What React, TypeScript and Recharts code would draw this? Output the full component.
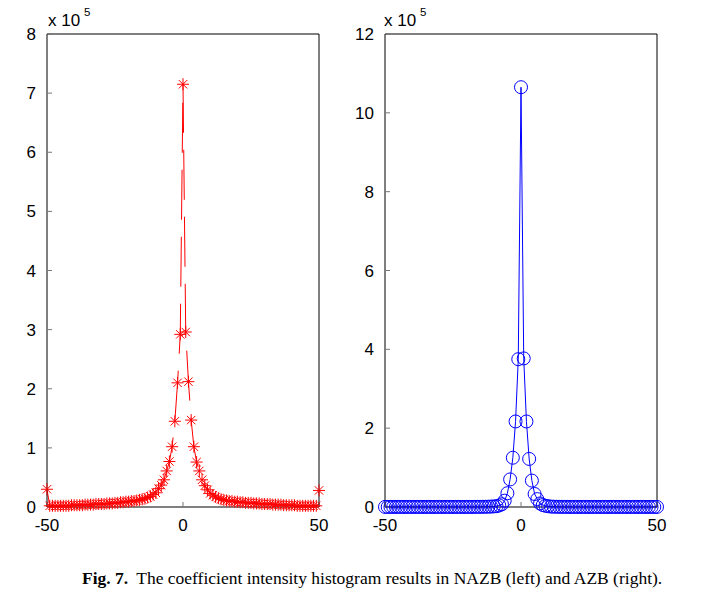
import React from "react";
import { LineChart, Line, XAxis, YAxis } from "recharts";

// histogram bins (coefficient value)
const bins = [
  -50, -49, -48, -47, -46, -45, -44, -43, -42, -41, -40, -39, -38, -37, -36, -35, -34,
  -33, -32, -31, -30, -29, -28, -27, -26, -25, -24, -23, -22, -21, -20, -19, -18, -17,
  -16, -15, -14, -13, -12, -11, -10, -9, -8, -7, -6, -5, -4, -3, -2, -1, 0, 1, 2, 3, 4,
  5, 6, 7, 8, 9, 10, 11, 12, 13, 14, 15, 16, 17, 18, 19, 20, 21, 22, 23, 24, 25, 26, 27,
  28, 29, 30, 31, 32, 33, 34, 35, 36, 37, 38, 39, 40, 41, 42, 43, 44, 45, 46, 47, 48,
  49, 50,
];

// counts, in units of 1e5
const nazb = [
  0.3, 0.02, 0.02, 0.02, 0.02, 0.02, 0.02, 0.02, 0.02, 0.03, 0.03, 0.03, 0.03, 0.03, 0.04,
  0.04, 0.04, 0.04, 0.05, 0.05, 0.05, 0.05, 0.06, 0.06, 0.06, 0.07, 0.07, 0.08, 0.08, 0.09,
  0.09, 0.1, 0.1, 0.11, 0.12, 0.13, 0.14, 0.16, 0.18, 0.21, 0.24, 0.31, 0.37, 0.46, 0.61,
  0.77, 1.02, 1.45, 2.1, 2.92, 7.15, 2.96, 2.12, 1.47, 1.02, 0.76, 0.61, 0.46, 0.36, 0.29,
  0.23, 0.2, 0.17, 0.15, 0.13, 0.12, 0.11, 0.1, 0.1, 0.09, 0.09, 0.08, 0.08, 0.07, 0.07,
  0.07, 0.06, 0.06, 0.06, 0.05, 0.05, 0.05, 0.05, 0.04, 0.04, 0.04, 0.04, 0.03, 0.03, 0.03,
  0.03, 0.03, 0.02, 0.02, 0.02, 0.02, 0.02, 0.02, 0.02, 0.02, 0.28,
];

const azb = [
  0.002, 0.002, 0.002, 0.002, 0.002, 0.002, 0.002, 0.002, 0.002, 0.002, 0.002, 0.002, 0.002,
  0.002, 0.002, 0.002, 0.002, 0.002, 0.002, 0.002, 0.002, 0.002, 0.002, 0.002, 0.002, 0.002,
  0.002, 0.002, 0.002, 0.002, 0.002, 0.002, 0.002, 0.003, 0.003, 0.004, 0.005, 0.006, 0.008,
  0.01, 0.015, 0.02, 0.04, 0.07, 0.16, 0.35, 0.7, 1.25, 2.17, 3.75, 10.65, 3.77, 2.17, 1.22,
  0.67, 0.33, 0.2, 0.09, 0.05, 0.03, 0.02, 0.01, 0.008, 0.006, 0.005, 0.004, 0.003, 0.003,
  0.002, 0.002, 0.002, 0.002, 0.002, 0.002, 0.002, 0.002, 0.002, 0.002, 0.002, 0.002, 0.002,
  0.002, 0.002, 0.002, 0.002, 0.002, 0.002, 0.002, 0.002, 0.002, 0.002, 0.002, 0.002, 0.002,
  0.002, 0.002, 0.002, 0.002, 0.002, 0.002, 0.002,
];

const xTicks = [-50, 0, 50];
const leftTicks = [0, 1, 2, 3, 4, 5, 6, 7, 8];
const rightTicks = [0, 2, 4, 6, 8, 10, 12];

const data = bins.map((x, i) => ({ x, nazb: nazb[i], azb: azb[i] }));

const FONT = "'Liberation Sans', Arial, sans-serif";
const tickStyle = { fill: "#000", fontSize: 17, fontFamily: FONT };
const tickLineStyle = { stroke: "#777" };

const Star = (props: any) => {
  const { cx, cy, index } = props;
  if (cx == null || cy == null) return <g key={index} />;
  const a = 6;
  const d = 4.2;
  return (
    <g key={index} stroke="#ff0000" strokeWidth={1}>
      <line x1={cx - a} y1={cy} x2={cx + a} y2={cy} />
      <line x1={cx} y1={cy - a} x2={cx} y2={cy + a} />
      <line x1={cx - d} y1={cy - d} x2={cx + d} y2={cy + d} />
      <line x1={cx - d} y1={cy + d} x2={cx + d} y2={cy - d} />
    </g>
  );
};

const Ring = (props: any) => {
  const { cx, cy, index } = props;
  if (cx == null || cy == null) return <g key={index} />;
  return <circle key={index} cx={cx} cy={cy} r={6.5} fill="none" stroke="#0000ff" strokeWidth={1} />;
};

function Panel({
  dataKey,
  max,
  yTicks,
  yWidth,
  width,
  rightMargin,
  color,
  dash,
  dot,
}: {
  dataKey: string;
  max: number;
  yTicks: number[];
  yWidth: number;
  width: number;
  rightMargin: number;
  color: string;
  dash?: string;
  dot: (p: any) => React.ReactElement;
}) {
  return (
    <LineChart width={width} height={540} data={data} margin={{ top: 33, right: rightMargin, bottom: 0, left: 0 }}>
      <XAxis
        dataKey="x"
        type="number"
        domain={[-50, 50]}
        ticks={xTicks}
        interval={0}
        tickSize={-5}
        tickMargin={17}
        height={33}
        tick={tickStyle}
        tickLine={tickLineStyle}
        axisLine={{ stroke: "#000" }}
      />
      <XAxis
        xAxisId="top"
        orientation="top"
        dataKey="x"
        type="number"
        domain={[-50, 50]}
        ticks={xTicks}
        interval={0}
        tickSize={-5}
        height={1}
        tick={false}
        tickLine={tickLineStyle}
        axisLine={{ stroke: "#000" }}
      />
      <YAxis
        type="number"
        domain={[0, max]}
        ticks={yTicks}
        interval={0}
        tickSize={-5}
        tickMargin={16}
        width={yWidth}
        tick={tickStyle}
        tickLine={tickLineStyle}
        axisLine={{ stroke: "#000" }}
      />
      <YAxis
        yAxisId="right"
        orientation="right"
        type="number"
        domain={[0, max]}
        ticks={yTicks}
        interval={0}
        tickSize={-5}
        width={1}
        tick={false}
        tickLine={tickLineStyle}
        axisLine={{ stroke: "#000" }}
      />
      <Line
        type="linear"
        dataKey={dataKey}
        stroke={color}
        strokeWidth={1}
        strokeDasharray={dash}
        dot={dot}
        activeDot={false}
        isAnimationActive={false}
      />
    </LineChart>
  );
}

export default function App() {
  return (
    <div style={{ position: "absolute", left: 0, top: 0, width: 702, height: 607, background: "#fff" }}>
      <div style={{ position: "absolute", left: 0, top: 0 }}>
        <Panel
          dataKey="nazb"
          max={8}
          yTicks={leftTicks}
          yWidth={47}
          width={360}
          rightMargin={40}
          color="#ff0000"
          dash="50 17"
          dot={Star}
        />
      </div>
      <div style={{ position: "absolute", left: 340, top: 0 }}>
        <Panel
          dataKey="azb"
          max={12}
          yTicks={rightTicks}
          yWidth={45}
          width={362}
          rightMargin={44}
          color="#0000ff"
          dot={Ring}
        />
      </div>
      <svg width={702} height={607} style={{ position: "absolute", left: 0, top: 0, pointerEvents: "none" }}>
        <g fontFamily={FONT} fill="#000">
          <text x={48} y={26} fontSize={17}>x 10</text>
          <text x={84} y={16} fontSize={11.5}>5</text>
          <text x={384} y={26} fontSize={17}>x 10</text>
          <text x={420} y={16} fontSize={11.5}>5</text>
        </g>
        <text x={82} y={584} fontSize={17.5} fontFamily="'Liberation Serif', 'Times New Roman', serif" fill="#000">
          <tspan fontWeight="bold">Fig. 7.</tspan>
          <tspan dx={8}>The coefficient intensity histogram results in NAZB (left) and AZB (right).</tspan>
        </text>
      </svg>
    </div>
  );
}
